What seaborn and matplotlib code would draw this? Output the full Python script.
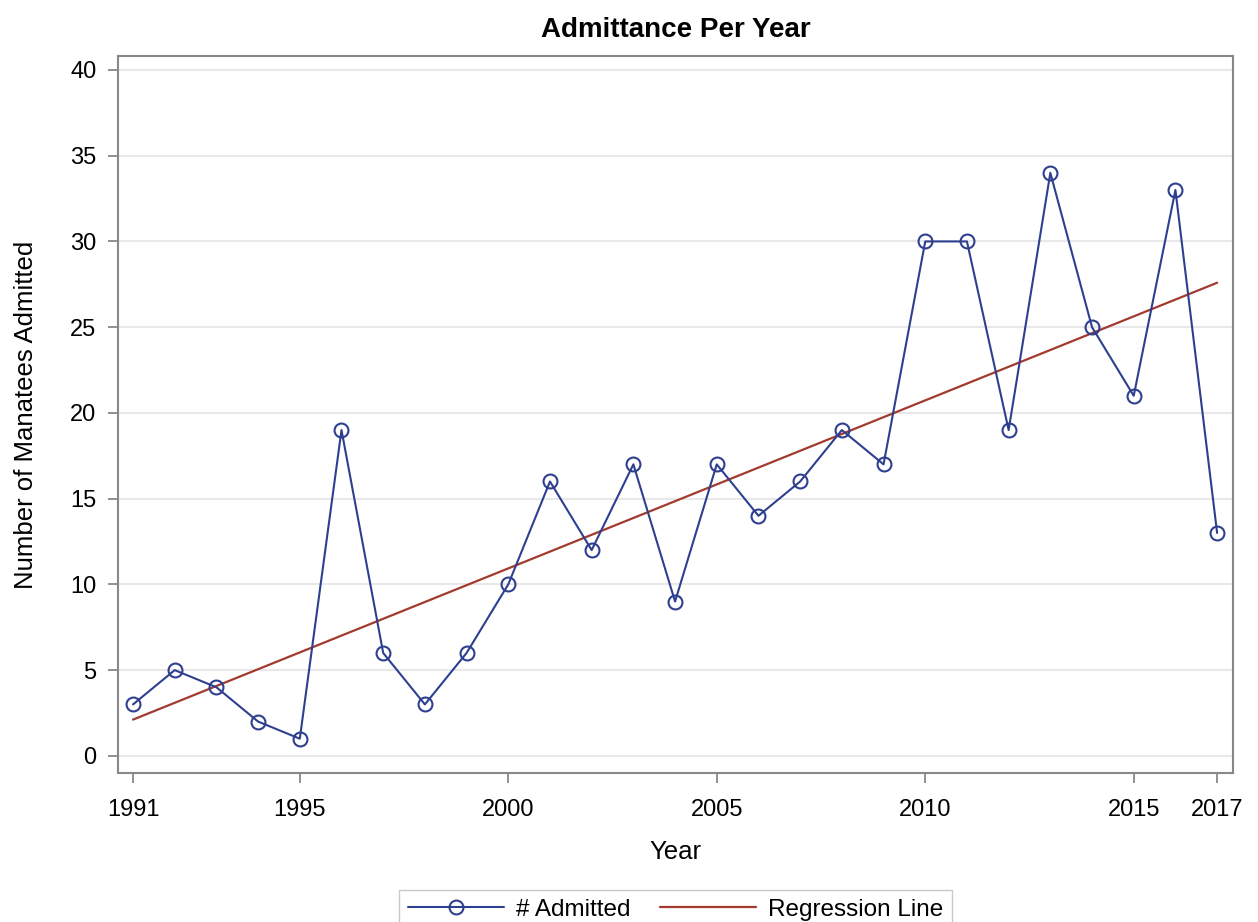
import numpy as np
import pandas as pd
import matplotlib
matplotlib.use("Agg")
import matplotlib.pyplot as plt
import seaborn as sns

years = list(range(1991, 2018))
admitted = [3, 5, 4, 2, 1, 19, 6, 3, 6, 10, 16, 12, 17, 9, 17, 14, 16, 19, 17,
            30, 30, 19, 34, 25, 21, 33, 13]
xtick_years = [1991, 1995, 2000, 2005, 2010, 2015, 2017]
ytick_vals = [0, 5, 10, 15, 20, 25, 30, 35, 40]

df = pd.DataFrame({"Year": years, "Admitted": admitted})

sns.set_theme(style="white")
plt.rcParams['font.family'] = ['Liberation Sans', 'DejaVu Sans']
plt.rcParams['text.color'] = "black"
plt.rcParams['axes.labelcolor'] = "black"

blue = "#2E3F8F"
red = "#A23A2E"

fig = plt.figure(figsize=(12.58, 9.22), dpi=100)
ax = fig.add_axes([0.0938, 0.1616, 0.8863, 0.7774])

# light reference lines at each y tick
for v in ytick_vals:
    ax.axhline(v, color="#E8E8E8", lw=1.5, zorder=0)

sns.regplot(data=df, x="Year", y="Admitted", scatter=False, ci=None,
            color=red, line_kws={"lw": 1.6, "zorder": 2}, ax=ax,
            label="Regression Line")
sns.lineplot(data=df, x="Year", y="Admitted", color=blue, lw=1.5,
             marker="o", markersize=10, markerfacecolor="none",
             markeredgecolor=blue, markeredgewidth=1.5, zorder=3, ax=ax,
             label="# Admitted")

ax.set_xlim(1990.64, 2017.38)
ax.set_ylim(-1.0, 40.8)
ax.set_xticks(xtick_years)
ax.set_yticks(ytick_vals)
ax.tick_params(axis="both", which="both", direction="out", length=7.5,
               width=1.3, color="#888888", labelcolor="black",
               labelsize=17, bottom=True, left=True)
ax.tick_params(axis="x", pad=11)
ax.tick_params(axis="y", pad=8)
for s in ax.spines.values():
    s.set_color("#888888")
    s.set_linewidth(1.5)

ax.set_title("Admittance Per Year", fontsize=20, fontweight="bold", pad=14)
ax.set_xlabel("Year", fontsize=18.5, labelpad=14)
ax.set_ylabel("Number of Manatees Admitted", fontsize=18.5, labelpad=23)

h, l = ax.get_legend_handles_labels()
order = [l.index("# Admitted"), l.index("Regression Line")]
ax.legend([h[i] for i in order], [l[i] for i in order], loc="upper center",
          bbox_to_anchor=(0.537, 0.0347), bbox_transform=fig.transFigure,
          borderaxespad=0, ncol=2, frameon=True, fancybox=False,
          edgecolor="#BBBBBB", fontsize=17.5, handlelength=3.95,
          columnspacing=1.2, borderpad=0.35, handletextpad=0.5)

fig.savefig("out.png", dpi=100)
